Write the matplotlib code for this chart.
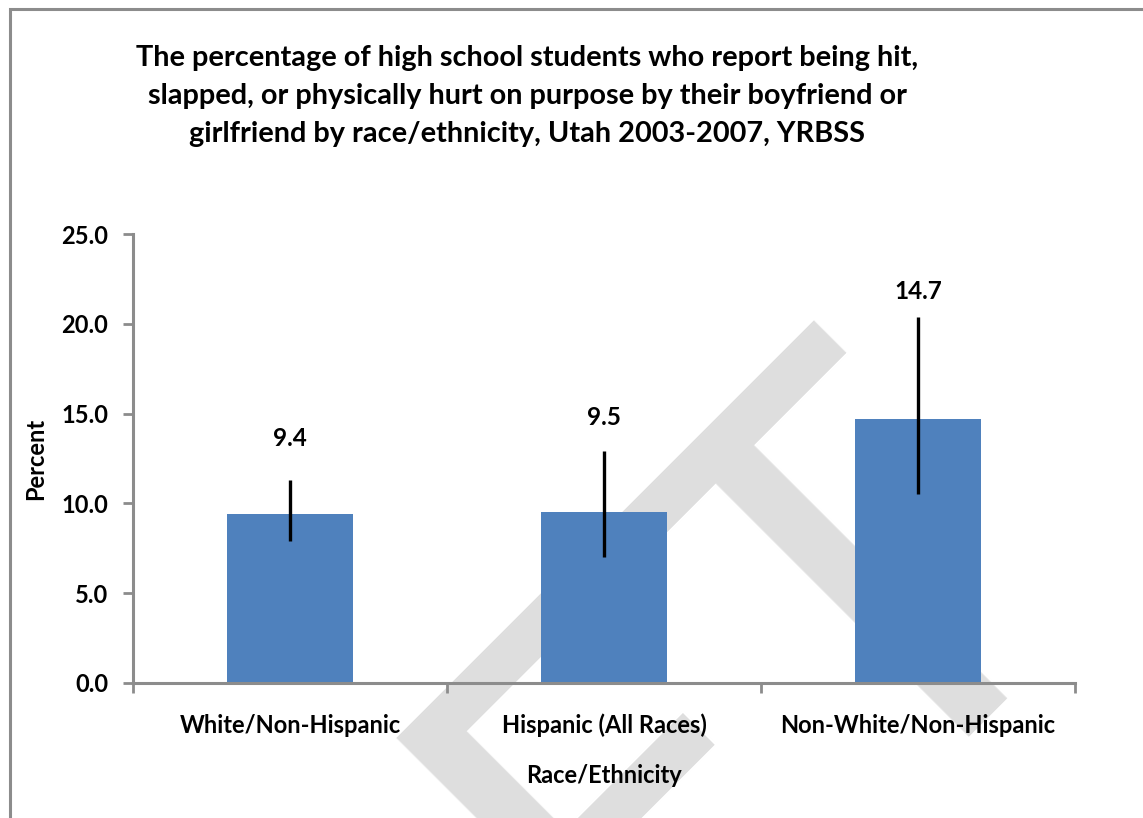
import matplotlib
matplotlib.use("Agg")
import matplotlib.pyplot as plt
from matplotlib.patches import Rectangle

# ---- data ----
categories = ["White/Non-Hispanic", "Hispanic (All Races)", "Non-White/Non-Hispanic"]
values = [9.4, 9.5, 14.7]
ci_lower = [7.9, 7.0, 10.5]
ci_upper = [11.3, 12.9, 20.4]
value_labels = ["9.4", "9.5", "14.7"]
label_y = [13.6, 14.8, 21.8]
y_ticks = [0, 5, 10, 15, 20, 25]
y_ticklabels = ["0.0", "5.0", "10.0", "15.0", "20.0", "25.0"]
title = ("The percentage of high school students who report being hit,\n"
         "slapped, or physically hurt on purpose by their boyfriend or\n"
         "girlfriend by race/ethnicity, Utah 2003-2007, YRBSS")

FONT = "Lato"
plt.rcParams["font.family"] = [FONT, "DejaVu Sans"]

W, H = 1143, 818
fig = plt.figure(figsize=(W / 100, H / 100), dpi=100)

# outer chart frame (left and top edges visible)
fig.patches.append(Rectangle((10 / W, -0.1), 1.2, 1 - 9 / H + 0.1,
                             transform=fig.transFigure, fill=False,
                             edgecolor="#8c8c8c", linewidth=2.2, zorder=-2))

# watermark
fig.text(1091 / W, 1 - 563 / H, "DRAFT", rotation=45, rotation_mode="anchor",
         ha="right", va="baseline", fontsize=405, color="#dedede",
         family=["Liberation Sans Narrow", "Lato"], zorder=-1)

ax = fig.add_axes([133 / W, 1 - 683 / H, (1075 - 133) / W, (683 - 234) / H])
ax.patch.set_visible(False)

x = list(range(len(categories)))
yerr = [[v - lo for v, lo in zip(values, ci_lower)],
        [hi - v for v, hi in zip(values, ci_upper)]]
ax.bar(x, values, width=0.4, color="#4f81bd", zorder=2)
ax.errorbar(x, values, yerr=yerr, fmt="none", ecolor="black",
            elinewidth=2.4, capsize=0, zorder=3)

for xi, yl, t in zip(x, label_y, value_labels):
    ax.text(xi, yl, t, ha="center", va="center", fontsize=17.5,
            fontweight="bold", color="black")

ax.set_xlim(-0.5, len(categories) - 0.5)
ax.set_ylim(0, 25)
ax.set_yticks(y_ticks)
ax.set_yticklabels(y_ticklabels, fontsize=17, fontweight="bold")
ax.set_xticks(x)
ax.set_xticklabels(categories, fontsize=17, fontweight="bold")
ax.set_xticks([i - 0.5 for i in range(len(categories) + 1)], minor=True)
ax.tick_params(axis="x", which="major", length=0, pad=22)
ax.tick_params(axis="x", which="minor", length=7, width=2, color="#8c8c8c",
               direction="out")
ax.tick_params(axis="y", length=7, width=2, color="#8c8c8c", pad=11)

for s in ["top", "right"]:
    ax.spines[s].set_visible(False)
for s in ["left", "bottom"]:
    ax.spines[s].set_color("#8c8c8c")
    ax.spines[s].set_linewidth(2.2)

ax.set_xlabel("Race/Ethnicity", fontsize=17, fontweight="bold", labelpad=19)
ax.set_ylabel("Percent", fontsize=17, fontweight="bold", labelpad=10)

fig.text(527 / W, 1 - 96 / H, title, ha="center", va="center",
         fontsize=20.8, fontweight="bold", linespacing=1.57)

fig.savefig("out.png", dpi=100)
